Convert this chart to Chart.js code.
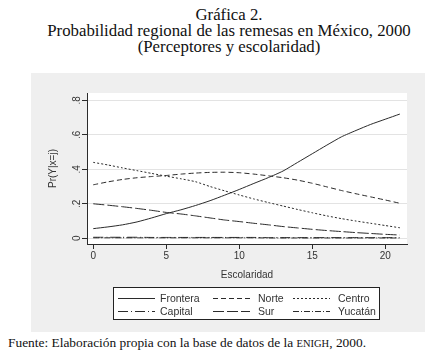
<!DOCTYPE html>
<html>
<head>
<meta charset="utf-8">
<script src="https://cdn.jsdelivr.net/npm/chart.js@4/dist/chart.umd.min.js"></script>
<style>
  body { margin: 0; background: #fff; width: 429px; height: 360px; overflow: hidden; position: relative; }
  .titulo { position: absolute; left: 29px; top: 7px; width: 400px; text-align: center;
            font-family: "Liberation Serif", serif; font-size: 16.8px; line-height: 16px; color: #111; }
  .panel { position: absolute; left: 31px; top: 73px; width: 394px; height: 259px; background: #efefef; }
  .fuente { position: absolute; left: 8px; top: 335px; font-family: "Liberation Serif", serif;
            font-size: 13.4px; line-height: 16px; color: #111; white-space: nowrap; }
  .sc { font-size: 10.5px; }
</style>
</head>
<body>
<div class="titulo">Gráfica 2.<br>Probabilidad regional de las remesas en México, 2000<br>(Perceptores y escolaridad)</div>
<div class="panel"><canvas id="grafica" width="394" height="259"></canvas></div>
<div class="fuente">Fuente: Elaboración propia con la base de datos de la <span class="sc">ENIGH</span>, 2000.</div>
<script>
// escolaridad (años)
var escolaridad = [0, 1, 2, 3, 4, 5, 6, 7, 8, 9, 10, 11, 12, 13, 14, 15, 16, 17, 18, 19, 20, 21];

var frontera = [0.056, 0.066, 0.078, 0.095, 0.118, 0.143, 0.165, 0.19, 0.218, 0.25, 0.283, 0.318, 0.352, 0.39, 0.44, 0.49, 0.54, 0.588, 0.625, 0.66, 0.69, 0.72];
var norte    = [0.31, 0.327, 0.341, 0.351, 0.358, 0.364, 0.372, 0.378, 0.382, 0.383, 0.38, 0.372, 0.362, 0.351, 0.337, 0.319, 0.298, 0.277, 0.258, 0.24, 0.222, 0.203];
var centro   = [0.44, 0.425, 0.408, 0.392, 0.376, 0.36, 0.345, 0.328, 0.3, 0.275, 0.251, 0.228, 0.207, 0.187, 0.167, 0.148, 0.13, 0.114, 0.1, 0.087, 0.074, 0.061];
var capital  = [0.006, 0.006, 0.006, 0.006, 0.005, 0.005, 0.005, 0.005, 0.005, 0.005, 0.005, 0.005, 0.004, 0.004, 0.004, 0.004, 0.004, 0.004, 0.004, 0.004, 0.004, 0.004];
var sur      = [0.2, 0.192, 0.183, 0.173, 0.162, 0.15, 0.141, 0.13, 0.118, 0.106, 0.097, 0.087, 0.078, 0.068, 0.06, 0.052, 0.045, 0.039, 0.033, 0.028, 0.023, 0.019];
var yucatan  = [0.003, 0.003, 0.003, 0.003, 0.003, 0.003, 0.003, 0.003, 0.003, 0.003, 0.003, 0.003, 0.002, 0.002, 0.002, 0.002, 0.002, 0.002, 0.002, 0.002, 0.002, 0.002];

var regiones = ['Frontera', 'Norte', 'Centro', 'Capital', 'Sur', 'Yucatán'];
var xTicks = [0, 5, 10, 15, 20];
var yTicks = [0, 0.2, 0.4, 0.6, 0.8];
var yTickLabels = ['0', '.2', '.4', '.6', '.8'];

var tinta = '#2b2b2b';
var fuenteSans = '"Liberation Sans", Arial, sans-serif';

function serie(label, data, dash) {
    return {
        label: label,
        data: escolaridad.map(function (x, i) { return { x: x, y: data[i] }; }),
        borderColor: tinta,
        borderWidth: 1,
        borderDash: dash,
        pointRadius: 0,
        tension: 0.2,
        fill: false
    };
}

var datasets = [
    serie(regiones[0], frontera, []),
    serie(regiones[1], norte, [5, 3]),
    serie(regiones[2], centro, [2, 2]),
    serie(regiones[3], capital, [10, 3, 1, 3]),
    serie(regiones[4], sur, [11, 3]),
    serie(regiones[5], yucatan, [6, 2, 1, 2])
];

// fondo blanco del area, etiquetas Y giradas y leyenda con marco (estilo Stata)
var estiloStata = {
    id: 'estiloStata',
    beforeDraw: function (chart) {
        var ctx = chart.ctx, a = chart.chartArea;
        ctx.save();
        ctx.fillStyle = '#ffffff';
        ctx.fillRect(a.left, a.top, a.right - a.left, a.bottom - a.top);
        ctx.restore();
    },
    afterDraw: function (chart) {
        var ctx = chart.ctx;
        var ys = chart.scales.y;

        ctx.save();
        ctx.font = '10px ' + fuenteSans;
        ctx.fillStyle = '#333';
        ctx.textAlign = 'center';
        ctx.textBaseline = 'middle';
        yTicks.forEach(function (v, i) {
            ctx.save();
            ctx.translate(ys.right - 10, ys.getPixelForValue(v));
            ctx.rotate(-Math.PI / 2);
            ctx.fillText(yTickLabels[i], 0, 0);
            ctx.restore();
        });
        ctx.restore();

        // leyenda
        var box = { left: 82.5, top: 214.5, width: 266, height: 32 };
        var colLine = [87, 182, 262];
        var colText = [129, 227, 307];
        var rowY = [225.5, 238.5];
        var largo = 37;

        ctx.save();
        ctx.fillStyle = '#ffffff';
        ctx.fillRect(box.left, box.top, box.width, box.height);
        ctx.strokeStyle = '#222';
        ctx.lineWidth = 1;
        ctx.strokeRect(box.left, box.top, box.width, box.height);

        ctx.font = '10.5px ' + fuenteSans;
        ctx.textAlign = 'left';
        ctx.textBaseline = 'middle';
        chart.data.datasets.forEach(function (ds, i) {
            var c = i % 3, r = Math.floor(i / 3);
            ctx.strokeStyle = ds.borderColor;
            ctx.setLineDash(ds.borderDash);
            ctx.beginPath();
            ctx.moveTo(colLine[c], rowY[r]);
            ctx.lineTo(colLine[c] + largo, rowY[r]);
            ctx.stroke();
            ctx.setLineDash([]);
            ctx.fillStyle = '#333';
            ctx.fillText(ds.label, colText[c], rowY[r] + 0.5);
        });
        ctx.restore();
    }
};

var ctx = document.getElementById('grafica');
var grafica = new Chart(ctx, {
    type: 'line',
    data: { datasets: datasets },
    plugins: [estiloStata],
    options: {
        responsive: false,
        animation: false,
        devicePixelRatio: 1,
        layout: { padding: { left: 0, right: 18, top: 20, bottom: 0 } },
        plugins: {
            legend: { display: false },
            tooltip: { enabled: false }
        },
        scales: {
            x: {
                type: 'linear',
                min: -0.43,
                max: 21.49,
                afterBuildTicks: function (axis) {
                    axis.ticks = xTicks.map(function (v) { return { value: v }; });
                },
                afterFit: function (axis) { axis.height = 88; },
                grid: { drawOnChartArea: false, drawTicks: true, tickLength: 5, tickColor: tinta },
                border: { display: true, color: tinta, width: 1 },
                ticks: { color: '#333', padding: 1, font: { family: fuenteSans, size: 10 }, maxRotation: 0 },
                title: {
                    display: true,
                    text: 'Escolaridad',
                    color: '#333',
                    font: { family: fuenteSans, size: 10 },
                    padding: { top: 0, bottom: 51 }
                }
            },
            y: {
                type: 'linear',
                min: -0.033,
                max: 0.842,
                afterBuildTicks: function (axis) {
                    axis.ticks = yTicks.map(function (v) { return { value: v }; });
                },
                afterFit: function (axis) { axis.width = 56; },
                grid: { color: '#e3e3e3', drawTicks: true, tickLength: 5, tickColor: tinta },
                border: { display: true, color: tinta, width: 1 },
                ticks: { display: false },
                title: {
                    display: true,
                    text: 'Pr(Y|x=j)',
                    color: '#333',
                    font: { family: fuenteSans, size: 10 },
                    padding: { top: 16, bottom: 0 }
                }
            }
        }
    }
});
</script>
</body>
</html>
